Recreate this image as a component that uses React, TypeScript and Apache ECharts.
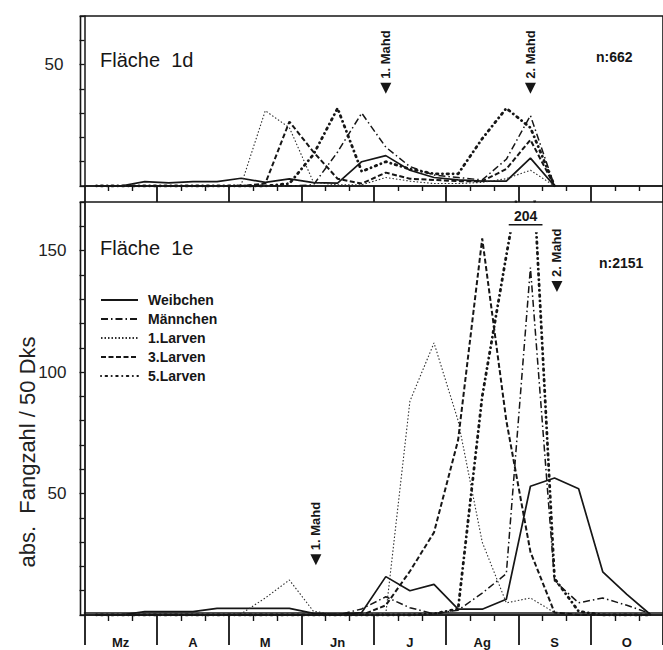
import React, { useEffect, useRef } from "react";
import * as echarts from "echarts";

// decades (10-day periods) from 1 March; month labels
const months = ["Mz", "A", "M", "Jn", "J", "Ag", "S", "O"];
const seriesNames = ["Weibchen", "Männchen", "1.Larven", "3.Larven", "5.Larven"];

// Fläche 1d (upper panel), values per decade
const weibchenTop = [0, 0, 1.8, 1.3, 1.8, 1.8, 3.2, 1.5, 2.9, 1.4, 1.2, 10, 12.5, 6.5, 3.5, 2.5, 2, 2, 11.5, 0];
const maennchenTop = [0, 0, 0, 0, 0, 0, 0, 0, 0, 0.5, 14, 30, 16, 8, 4.5, 3.5, 2.5, 11, 29, 0];
const larven1Top = [0, 0, 0, 0, 0, 0, 0.5, 31, 24, 1.5, 0.5, 0.5, 3.5, 2, 1, 1, 1.5, 3, 6.5, 0];
const larven3Top = [0, 0, 0, 0, 0, 0, 0, 1, 26.5, 14, 3, 1, 5.5, 3, 2.5, 2, 2, 7, 19, 0];
const larven5Top = [0, 0, 0, 0, 0, 0, 0, 0, 1, 13, 32, 6, 10, 7, 5, 5, 19.5, 32, 24, 0];

// Fläche 1e (lower panel)
const weibchenBot = [0, 0, 1.4, 1.4, 1.4, 2.7, 2.7, 2.7, 2.7, 0.7, 0.3, 1, 15.8, 10, 12.6, 2.4, 2.4, 6.5, 53, 56.4, 52, 17.8, 8.5, 0];
const maennchenBot = [0, 0, 0, 0, 0, 0, 0, 0, 0, 0, 0, 2.5, 7.5, 3, 0.5, 2, 9, 17, 143, 14, 5, 7, 4, 0.5];
const larven1Bot = [0, 0, 0, 0, 0, 0, 0.5, 7, 14.4, 1.5, 0, 0, 0.5, 88, 112, 80, 30, 5, 7, 1, 0, 0, 0, 0];
const larven3Bot = [0, 0, 0, 0, 0, 0, 0, 0, 0, 0, 0, 0, 4, 18, 34, 72, 155, 80, 26, 1, 0, 0, 0, 0];
const larven5Bot = [0, 0, 0, 0, 0, 0, 0, 0, 0, 0, 0, 0, 0, 0, 0.5, 2.5, 90, 148, 204, 15, 1.5, 0, 0, 0];

// mowing dates (x in decades, y = arrow tip value)
const mahdTop = [
  { x: 12.5, y: 38, label: "1. Mahd" },
  { x: 18.5, y: 38, label: "2. Mahd" },
];
const mahdBot = [
  { x: 9.6, y: 20.5, label: "1. Mahd" },
  { x: 19.6, y: 133, label: "2. Mahd" },
];
const peakDecade = 18; // 5.Larven peak that exceeds the axis

const INK = "#161616";
const FONT = "Liberation Sans";

const styles: Record<string, any> = {
  Weibchen: { color: INK, width: 1.7, type: "solid" },
  "Männchen": { color: INK, width: 1.5, type: [7, 3, 1.5, 3] },
  "1.Larven": { color: "#2e2e2e", width: 1.1, type: [1.5, 2] },
  "3.Larven": { color: INK, width: 2, type: [5, 2.5] },
  "5.Larven": { color: INK, width: 2.8, type: [0.1, 4.5, 1.5, 4.5], cap: "round" },
};

const toXY = (arr: number[]) => arr.map((v, i) => [i + 0.5, v]);

function lineSeries(name: string, arr: number[], axis: number) {
  return {
    name,
    type: "line",
    xAxisIndex: axis,
    yAxisIndex: axis,
    data: toXY(arr),
    symbol: "none",
    silent: true,
    z: 3,
    lineStyle: styles[name],
    itemStyle: { color: styles[name].color },
  };
}

function mahdSeries(items: { x: number; y: number; label: string }[], axis: number) {
  return {
    type: "custom",
    xAxisIndex: axis,
    yAxisIndex: axis,
    silent: true,
    z: 6,
    data: items.map((m) => [m.x, m.y]),
    renderItem: (params: any, api: any) => {
      const p = api.coord([api.value(0), api.value(1)]);
      const label = items[params.dataIndex].label;
      return {
        type: "group",
        children: [
          {
            type: "polygon",
            shape: { points: [[p[0] - 5.5, p[1] - 11], [p[0] + 5.5, p[1] - 11], [p[0], p[1]]] },
            style: { fill: INK },
          },
          {
            type: "text",
            x: p[0],
            y: p[1] - 15,
            rotation: Math.PI / 2,
            style: {
              text: label,
              font: `bold 13px "${FONT}"`,
              align: "left",
              verticalAlign: "middle",
              fill: INK,
            },
          },
        ],
      };
    },
  };
}

const cap = 157.5; // where the clipped peak is cut
const peakSeries = {
  type: "custom",
  xAxisIndex: 2,
  yAxisIndex: 2,
  silent: true,
  z: 7,
  data: [[peakDecade + 0.5, larven5Bot[peakDecade]]],
  renderItem: (params: any, api: any) => {
    const xc = api.value(0);
    const a = api.coord([xc - 1.15, 169.6]);
    const b = api.coord([xc + 0.55, cap]);
    const l1 = api.coord([xc - 0.9, 160.6]);
    const l2 = api.coord([xc + 0.5, 160.6]);
    return {
      type: "group",
      children: [
        { type: "rect", shape: { x: a[0], y: a[1], width: b[0] - a[0], height: b[1] - a[1] }, style: { fill: "#fff" } },
        { type: "line", shape: { x1: l1[0], y1: l1[1], x2: l2[0], y2: l2[1] }, style: { stroke: INK, lineWidth: 1.5 } },
        {
          type: "text",
          x: (l1[0] + l2[0]) / 2,
          y: l1[1] - 2,
          style: {
            text: String(api.value(1)),
            font: `bold 14px "${FONT}"`,
            align: "center",
            verticalAlign: "bottom",
            fill: INK,
          },
        },
      ],
    };
  },
};

const yLabel = (v: number) => (v > 0 && v % 50 === 0 ? String(v) : "");

export default function App() {
  const ref = useRef<HTMLDivElement>(null);
  useEffect(() => {
    if (!ref.current) return;
    const chart = echarts.init(ref.current, undefined, { renderer: "svg" });
    const dataGridW = 24 * 24.4;
    const hidden = { show: false };
    const mainX = (grid: number, tickLen: number, minorLen: number) => ({
      gridIndex: grid,
      type: "value",
      min: 0,
      max: 24,
      interval: 3,
      position: "bottom",
      axisLine: { show: true, onZero: false, lineStyle: { color: INK, width: 1.6 } },
      axisTick: { show: true, length: tickLen, lineStyle: { color: INK, width: 1.8 } },
      minorTick: { show: true, splitNumber: 3, length: minorLen, lineStyle: { color: INK, width: 1.4 } },
      axisLabel: { show: false },
      splitLine: hidden,
      minorSplitLine: hidden,
    });
    const option: any = {
      animation: false,
      backgroundColor: "#fff",
      textStyle: { fontFamily: FONT },
      title: [
        { text: "Fläche  1d", left: 100, top: 50, padding: 0, textStyle: { fontSize: 20, fontWeight: "normal", color: INK, fontFamily: FONT } },
        { text: "n:662", left: 596, top: 50, padding: 0, textStyle: { fontSize: 14, fontWeight: "bold", color: INK, fontFamily: FONT } },
        { text: "Fläche  1e", left: 100, top: 238, padding: 0, textStyle: { fontSize: 20, fontWeight: "normal", color: INK, fontFamily: FONT } },
        { text: "n:2151", left: 599, top: 256, padding: 0, textStyle: { fontSize: 14, fontWeight: "bold", color: INK, fontFamily: FONT } },
      ],
      legend: {
        data: seriesNames,
        orient: "vertical",
        left: 100,
        top: 293,
        itemWidth: 37,
        itemHeight: 14,
        itemGap: 5,
        selectedMode: false,
        padding: 0,
        itemStyle: { opacity: 0 },
        textStyle: { fontSize: 14, fontWeight: "bold", color: INK, fontFamily: FONT, padding: [0, 0, 0, 5] },
      },
      graphic: [
        {
          type: "text",
          x: 27,
          y: 452,
          rotation: Math.PI / 2,
          style: {
            text: "abs.  Fangzahl / 50 Dks",
            font: `22px "${FONT}"`,
            align: "center",
            verticalAlign: "middle",
            fill: "#222",
          },
        },
      ],
      grid: [
        { left: 84.5, top: 16, width: dataGridW, height: 170 },
        { left: 80.5, top: 16, width: 600, height: 170, show: true, borderColor: INK, borderWidth: 1.6, backgroundColor: "transparent" },
        { left: 84.5, top: 202, width: dataGridW, height: 413 },
        { left: 80.5, top: 202, width: 600, height: 413, show: true, borderColor: INK, borderWidth: 1.6, backgroundColor: "transparent" },
        { left: 84.5, top: 202, width: dataGridW, height: 413 },
      ],
      xAxis: [
        mainX(0, 16, 5),
        { gridIndex: 1, type: "value", show: false },
        mainX(2, 30, 6),
        { gridIndex: 3, type: "value", show: false },
        {
          gridIndex: 4,
          type: "category",
          data: months,
          boundaryGap: true,
          position: "bottom",
          offset: 30,
          axisLine: { show: true, lineStyle: { color: INK, width: 1.6 } },
          axisTick: hidden,
          splitLine: hidden,
          axisLabel: {
            show: true,
            interval: 0,
            margin: 0,
            verticalAlign: "middle",
            fontSize: 13,
            fontWeight: "bold",
            color: INK,
            fontFamily: FONT,
            backgroundColor: "#fff",
            padding: [1, 5],
          },
        },
      ],
      yAxis: [
        {
          gridIndex: 0,
          type: "value",
          min: 0,
          max: 70,
          interval: 10,
          offset: 8,
          axisLine: { show: true, lineStyle: { color: INK, width: 1.5 } },
          axisTick: { show: true, length: 5, lineStyle: { color: INK, width: 1.3 } },
          axisLabel: { formatter: yLabel, margin: 13, fontSize: 17, color: "#222", fontFamily: FONT },
          splitLine: hidden,
        },
        { gridIndex: 1, type: "value", show: false },
        {
          gridIndex: 2,
          type: "value",
          min: 0,
          max: 170,
          interval: 10,
          offset: 4,
          axisLine: { show: true, lineStyle: { color: INK, width: 1.8 } },
          axisTick: { show: true, length: 5, lineStyle: { color: INK, width: 1.3 } },
          axisLabel: { formatter: yLabel, margin: 14, fontSize: 17, color: "#222", fontFamily: FONT },
          splitLine: hidden,
        },
        { gridIndex: 3, type: "value", show: false },
        { gridIndex: 4, type: "value", show: false },
      ],
      series: [
        lineSeries("Weibchen", weibchenTop, 0),
        lineSeries("Männchen", maennchenTop, 0),
        lineSeries("1.Larven", larven1Top, 0),
        lineSeries("3.Larven", larven3Top, 0),
        lineSeries("5.Larven", larven5Top, 0),
        mahdSeries(mahdTop, 0),
        lineSeries("Weibchen", weibchenBot, 2),
        lineSeries("Männchen", maennchenBot, 2),
        lineSeries("1.Larven", larven1Bot, 2),
        lineSeries("3.Larven", larven3Bot, 2),
        lineSeries("5.Larven", larven5Bot, 2),
        mahdSeries(mahdBot, 2),
        peakSeries,
      ],
    };
    chart.setOption(option);
    return () => chart.dispose();
  }, []);
  return (
    <div
      ref={ref}
      style={{ position: "fixed", left: 0, top: 0, width: 663, height: 650, background: "#fff" }}
    />
  );
}
